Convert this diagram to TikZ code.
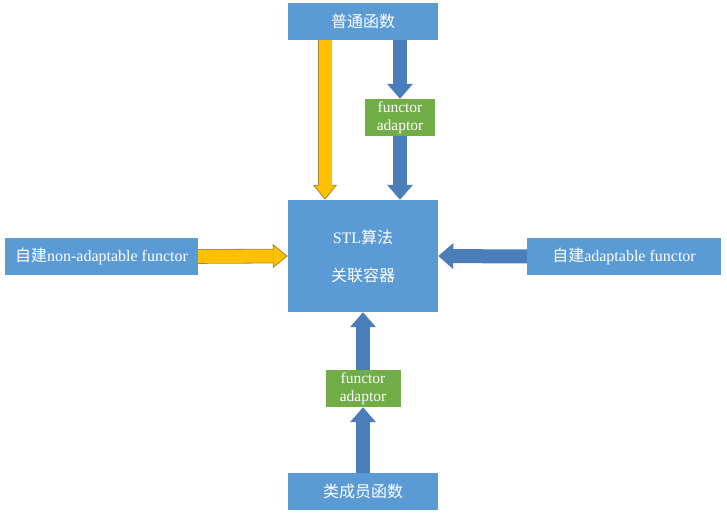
\documentclass[tikz,border=0pt]{standalone}
\usepackage{fontspec}
\setmainfont{Liberation Serif}
\newfontfamily\cjk{Noto Sans CJK SC}
\usetikzlibrary{arrows.meta}
\definecolor{boxblue}{HTML}{5B9BD5}
\definecolor{arrblue}{HTML}{4A7EBB}
\definecolor{adgreen}{HTML}{70AD47}
\definecolor{arryellow}{HTML}{FFC000}
\definecolor{yedge}{HTML}{A8862A}
\tikzset{
  bluebox/.style={fill=boxblue, text=white, inner sep=0pt, font=\fontsize{16}{19}\selectfont},
  adaptbox/.style={fill=adgreen, text=white, inner sep=0pt, align=center,
    minimum width=70pt, minimum height=37pt, font=\fontsize{15.5}{18}\selectfont},
  bluearrow/.style={draw=arrblue, line width=14pt,
    -{Triangle[length=15pt,width=25pt]}},
  yellowedge/.style={draw=yedge, line width=14.6pt,
    -{Triangle[length=15pt,width=24pt,line width=0.8pt,fill=arryellow]}},
  yellowarrow/.style={draw=arryellow, line width=13pt, shorten >=14.2pt},
}

\begin{document}
\begin{tikzpicture}[x=1pt, y=-1pt]
  \useasboundingbox (0,0) rectangle (727,518);

  % boxes
  \node[bluebox, minimum width=150pt, minimum height=37pt] (func) at (363,21.5) {\cjk 普通函数};
  \node[bluebox, minimum width=150pt, minimum height=112pt, align=center] (stl) at (363,256)
    {STL{\cjk 算法}\\[19pt]{\cjk 关联容器}};
  \node[bluebox, minimum width=193pt, minimum height=37pt] (nonad) at (101.5,256.5) {{\cjk 自建}non-adaptable functor};
  \node[bluebox, minimum width=194pt, minimum height=37pt] (ad) at (624,256.5) {{\cjk 自建}adaptable functor};
  \node[bluebox, minimum width=150pt, minimum height=37pt] (memb) at (363,491.5) {\cjk 类成员函数};
  \node[adaptbox] (adtop) at (400,117.5) {functor\\adaptor};
  \node[adaptbox, minimum width=75pt] (adbot) at (363,388.5) {functor\\adaptor};

  % arrows
  \draw[yellowedge] ([xshift=-38pt]func.south) -- ([xshift=-38pt]stl.north);
  \draw[yellowarrow] ([xshift=-38pt]func.south) -- ([xshift=-38pt]stl.north);
  \draw[bluearrow] ([xshift=37pt]func.south) -- (adtop.north);
  \draw[bluearrow] (adtop.south) -- ([xshift=37pt]stl.north);

  \draw[yellowedge] (nonad.east) -- (stl.west);
  \draw[yellowarrow] (nonad.east) -- (stl.west);
  \draw[bluearrow] (ad.west) -- (stl.east);

  \draw[bluearrow] (memb.north) -- (adbot.south);
  \draw[bluearrow] (adbot.north) -- (stl.south);
\end{tikzpicture}
\end{document}
